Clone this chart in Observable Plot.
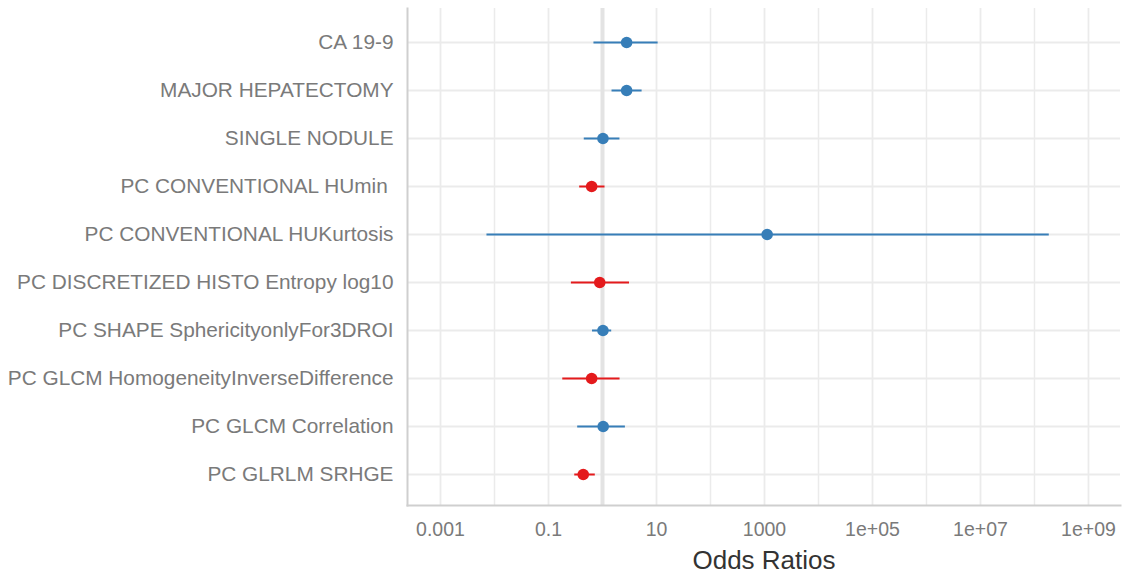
<!DOCTYPE html>
<html>
<head>
<meta charset="utf-8">
<script src="https://cdn.jsdelivr.net/npm/d3@7"></script>
<script src="https://cdn.jsdelivr.net/npm/@observablehq/plot@0.6"></script>
<style>
  html, body { margin: 0; padding: 0; background: #fff; }
  svg text { white-space: pre; }
</style>
</head>
<body>
<div id="chart"></div>
<script>
const variables = [
  "CA 19-9",
  "MAJOR HEPATECTOMY",
  "SINGLE NODULE",
  "PC CONVENTIONAL HUmin ",
  "PC CONVENTIONAL HUKurtosis",
  "PC DISCRETIZED HISTO Entropy log10",
  "PC SHAPE SphericityonlyFor3DROI",
  "PC GLCM HomogeneityInverseDifference",
  "PC GLCM Correlation",
  "PC GLRLM SRHGE"
];
const oddsRatio = [2.8, 2.8, 1.02, 0.63, 1120, 0.89, 1.02, 0.63, 1.03, 0.44];
const lowerCI   = [0.68, 1.47, 0.45, 0.37, 0.0071, 0.26, 0.64, 0.18, 0.34, 0.30];
const upperCI   = [10.5, 5.3, 2.06, 1.09, 1.84e8, 3.1, 1.45, 2.07, 2.6, 0.72];

const majorTicks = [1e-3, 1e-1, 1e1, 1e3, 1e5, 1e7, 1e9];
const majorLabels = ["0.001", "0.1", "10", "1000", "1e+05", "1e+07", "1e+09"];
const minorTicks = [1e-2, 1e0, 1e2, 1e4, 1e6, 1e8];

const rows = variables.map((v, i) => ({
  variable: v, or: oddsRatio[i], lo: lowerCI[i], hi: upperCI[i],
  dir: oddsRatio[i] < 1 ? "lower" : "higher"
}));

const colorFor = {lower: "#e41a1c", higher: "#377eb8"};

const chart = Plot.plot({
  width: 1126,
  height: 576,
  marginLeft: 407,
  marginRight: 6,
  marginTop: 8,
  marginBottom: 71,
  style: {fontFamily: "'Liberation Sans', Arial, sans-serif", background: "#fff"},
  x: {type: "log", domain: [Math.pow(10, -3.611), Math.pow(10, 9.593)]},
  y: {type: "point", domain: variables, padding: 0, range: [39, 477.3]},
  marks: [
    Plot.ruleX(minorTicks, {stroke: "#ebebeb", strokeWidth: 1.5}),
    Plot.ruleX(majorTicks, {stroke: "#ebebeb", strokeWidth: 1.8}),
    Plot.ruleY(variables, {y: d => d, stroke: "#ebebeb", strokeWidth: 1.8}),
    Plot.ruleX([1], {stroke: "#e3e3e3", strokeWidth: 4}),
    Plot.frame({anchor: "left", stroke: "#cfcfcf", strokeWidth: 2}),
    Plot.frame({anchor: "bottom", stroke: "#cfcfcf", strokeWidth: 2}),
    Plot.link(rows, {x1: "lo", x2: "hi", y1: "variable", y2: "variable",
      stroke: d => colorFor[d.dir], strokeWidth: 2}),
    Plot.dot(rows, {x: "or", y: "variable", r: 5.8,
      fill: d => colorFor[d.dir], stroke: "none"}),
    Plot.axisX(majorTicks, {tickSize: 0, tickPadding: 17, fontSize: 19.5,
      tickFormat: (d, i) => majorLabels[majorTicks.indexOf(d)], fill: "#7a7a7a", label: null}),
    Plot.axisY({tickSize: 0, tickPadding: 14, fontSize: 20.8, fill: "#7a7a7a", label: null}),
    Plot.text(["Odds Ratios"], {frameAnchor: "bottom", dy: 55, lineAnchor: "middle",
      fontSize: 26, fill: "#333333"})
  ]
});
document.getElementById("chart").appendChild(chart);
</script>
</body>
</html>
